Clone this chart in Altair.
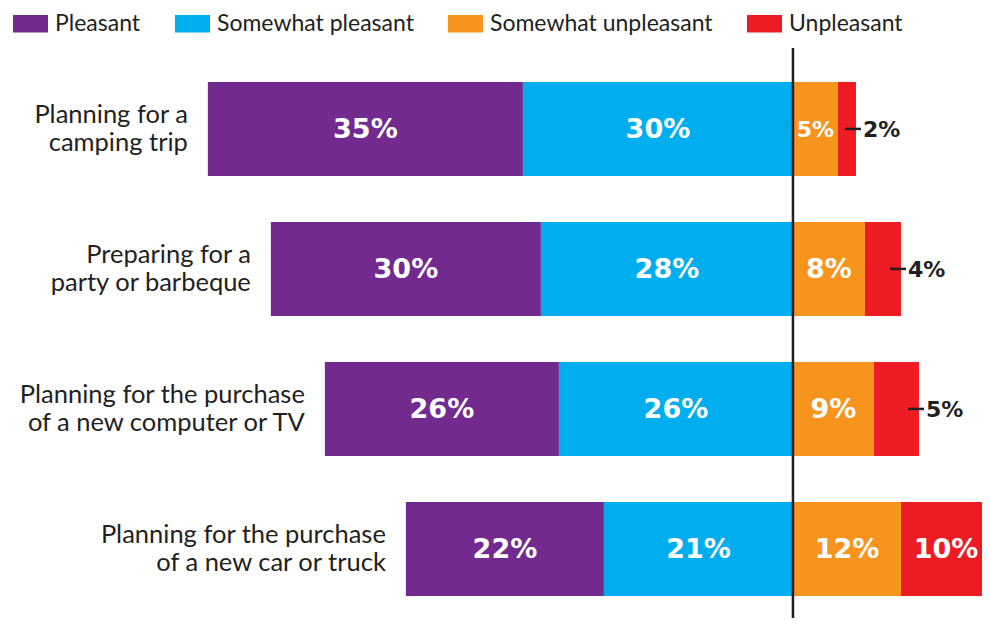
import altair as alt
import pandas as pd

categories = [
    "Planning for a\ncamping trip",
    "Preparing for a\nparty or barbeque",
    "Planning for the purchase\nof a new computer or TV",
    "Planning for the purchase\nof a new car or truck",
]
series = ["Pleasant", "Somewhat pleasant", "Somewhat unpleasant", "Unpleasant"]
pleasant = [35, 30, 26, 22]
somewhat_pleasant = [30, 28, 26, 21]
somewhat_unpleasant = [5, 8, 9, 12]
unpleasant = [2, 4, 5, 10]
colors = ["#732A8E", "#00AEEF", "#F7941D", "#ED1C24"]

rows = []
for i, c in enumerate(categories):
    p, sp, su, u = pleasant[i], somewhat_pleasant[i], somewhat_unpleasant[i], unpleasant[i]
    segs = [
        (series[0], p, -(p + sp), -sp),
        (series[1], sp, -sp, 0),
        (series[2], su, 0, su),
        (series[3], u, su, su + u),
    ]
    for name, v, s, e in segs:
        rows.append({
            "category": c, "series": name, "value": v, "start": s, "end": e,
            "mid": (s + e) / 2, "label": f"{v}%",
            "outside": name == "Unpleasant" and v < 8,
            "first": name == "Pleasant",
        })
df = pd.DataFrame(rows)

FONT = "Lato"
NUMFONT = "DejaVu Sans"
DARK = "#231F20"

x_scale = alt.Scale(domain=[-87.2, 21.0], nice=False, zero=False)
y_enc = alt.Y("category:N", sort=categories, axis=None,
              scale=alt.Scale(paddingInner=0.329, paddingOuter=0.343, align=0.77))

base = alt.Chart(df)

bars = base.mark_bar(strokeWidth=0).encode(
    x=alt.X("start:Q", scale=x_scale, axis=None),
    x2="end:Q",
    y=y_enc,
    color=alt.Color("series:N", sort=series,
                    scale=alt.Scale(domain=series, range=colors),
                    legend=alt.Legend(
                        title=None, orient="none", legendX=5, legendY=-2,
                        direction="horizontal",
                        symbolType="M-1,-0.5H1V0.5H-1Z", symbolSize=1225,
                        symbolStrokeWidth=0, symbolOpacity=1,
                        labelFont=FONT, labelFontSize=23, labelColor=DARK,
                        labelLimit=0,
                        labelOffset=7, columnPadding=34, padding=0,
                    )),
)

inside = base.transform_filter("!datum.outside").mark_text(
    font=NUMFONT, fontWeight="bold", color="white",
    align="center", baseline="middle", dy=1,
).encode(
    x=alt.X("mid:Q", scale=x_scale), y=y_enc, text="label:N",
    size=alt.condition("datum.value < 6", alt.value(22), alt.value(27)),
)

outside_df = base.transform_filter("datum.outside")
leader = outside_df.mark_rule(color=DARK, strokeWidth=2.5, xOffset=-11, x2Offset=5).encode(
    x=alt.X("end:Q", scale=x_scale), x2="end:Q", y=y_enc)
outside_text = outside_df.mark_text(
    font=NUMFONT, fontSize=22, fontWeight="bold", color=DARK,
    align="left", baseline="middle", dx=7, dy=1,
).encode(x=alt.X("end:Q", scale=x_scale), y=y_enc, text="label:N")

cat_text = base.transform_filter("datum.first").mark_text(
    font=FONT, fontSize=25.5, color=DARK, align="right", baseline="middle",
    dx=-20, dy=-14, lineBreak="\n", lineHeight=28,
).encode(x=alt.X("start:Q", scale=x_scale), y=y_enc, text="category:N")

center = alt.Chart(pd.DataFrame({"v": [0]})).mark_rule(color=DARK, strokeWidth=2.5).encode(
    x=alt.X("v:Q", scale=x_scale), y=alt.value(40), y2=alt.value(610))

chart = alt.layer(bars, inside, leader, outside_text, cat_text, center).properties(
    width=974, height=610,
    autosize=alt.AutoSizeParams(type="none"),
    padding=0,
).configure_view(stroke=None)

chart.save("out.html", embed_options={"renderer": "svg", "actions": False})
